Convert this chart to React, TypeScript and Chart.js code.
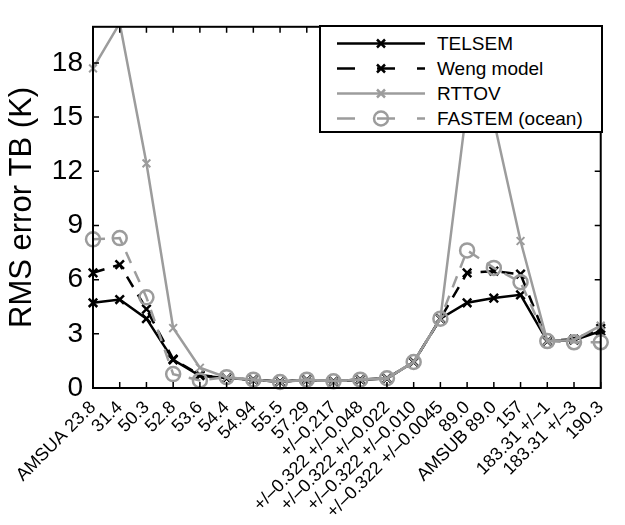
import React, { useEffect, useRef } from "react";
import { Chart, registerables } from "chart.js";

Chart.register(...registerables);

const FONT = '"Liberation Sans", Arial, Helvetica, sans-serif';
const GRAY = "#9c9c9c";

const categories = [
  "AMSUA 23.8", "31.4", "50.3", "52.8", "53.6", "54.4", "54.94", "55.5", "57.29",
  "+/–0.217", "+/–0.322 +/–0.048", "+/–0.322 +/–0.022", "+/–0.322 +/–0.010",
  "+/–0.322 +/–0.0045", "89.0", "AMSUB 89.0", "157", "183.31 +/–1", "183.31 +/–3", "190.3",
];

const telsem = [4.72, 4.9, 3.84, 1.56, 0.68, 0.55, 0.46, 0.35, 0.45, 0.37, 0.47, 0.53, 1.44, 3.84, 4.72, 4.98, 5.16, 2.6, 2.65, 3.15];
const weng = [6.38, 6.83, 4.37, 1.6, 0.72, 0.55, 0.46, 0.35, 0.45, 0.37, 0.47, 0.53, 1.44, 3.84, 6.38, 6.47, 6.3, 2.6, 2.7, 3.3];
const rttov = [17.7, 20.2, 12.44, 3.32, 1.12, 0.58, 0.46, 0.35, 0.45, 0.37, 0.47, 0.53, 1.44, 3.84, 15.7, 14.8, 8.14, 2.6, 2.65, 3.45];
const fastem = [8.23, 8.3, 5.02, 0.77, 0.42, 0.6, 0.46, 0.33, 0.46, 0.37, 0.46, 0.54, 1.44, 3.84, 7.62, 6.65, 5.86, 2.6, 2.53, 2.53];

const yTicks = [0, 3, 6, 9, 12, 15, 18];
const yMin = 0;
const yMax = 20;

const legendItems = [
  { label: "TELSEM", color: "#000", dash: "", marker: "x" },
  { label: "Weng model", color: "#000", dash: "18 22", marker: "x" },
  { label: "RTTOV", color: GRAY, dash: "", marker: "x" },
  { label: "FASTEM (ocean)", color: GRAY, dash: "18 22", marker: "o" },
];

const framePlugin = {
  id: "frame",
  afterDraw(chart: any) {
    const { ctx, chartArea: a, scales } = chart;
    const x = scales.x;
    const y = scales.y;
    ctx.save();
    ctx.strokeStyle = "#000";
    ctx.lineWidth = 1.5;
    const L = 6;
    ctx.beginPath();
    x.ticks.forEach((_t: any, i: number) => {
      const px = x.getPixelForTick(i);
      ctx.moveTo(px, a.bottom);
      ctx.lineTo(px, a.bottom - L);
      ctx.moveTo(px, a.top);
      ctx.lineTo(px, a.top + L);
    });
    y.ticks.forEach((_t: any, i: number) => {
      const py = y.getPixelForTick(i);
      ctx.moveTo(a.left, py);
      ctx.lineTo(a.left + L, py);
      ctx.moveTo(a.right, py);
      ctx.lineTo(a.right - L, py);
    });
    ctx.stroke();
    ctx.lineWidth = 2;
    ctx.strokeRect(a.left, a.top, a.right - a.left, a.bottom - a.top);
    ctx.restore();
  },
};

function LegendSample({ color, dash, marker }: { color: string; dash: string; marker: string }) {
  return (
    <svg width={88} height={25} style={{ display: "block" }}>
      <line x1={0} y1={12.5} x2={88} y2={12.5} stroke={color} strokeWidth={2.5} strokeDasharray={dash || undefined} />
      {marker === "x" ? (
        <g stroke={color} strokeWidth={2.5}>
          <line x1={40} y1={8.5} x2={48} y2={16.5} />
          <line x1={40} y1={16.5} x2={48} y2={8.5} />
        </g>
      ) : (
        <circle cx={44} cy={12.5} r={7} fill="none" stroke={color} strokeWidth={2.5} />
      )}
    </svg>
  );
}

export default function App() {
  const ref = useRef<HTMLCanvasElement | null>(null);

  useEffect(() => {
    if (!ref.current) return;
    const clip = { left: 12, right: 12, top: 0, bottom: 12 };
    const chart = new Chart(ref.current, {
      type: "line",
      data: {
        labels: categories,
        datasets: [
          {
            label: "TELSEM",
            data: telsem,
            borderColor: "#000",
            borderWidth: 2.5,
            pointStyle: "crossRot",
            pointRadius: 6,
            pointBorderWidth: 2.5,
            pointBorderColor: "#000",
            pointBackgroundColor: "#000",
            order: 3,
            clip,
          } as any,
          {
            label: "Weng model",
            data: weng,
            borderColor: "#000",
            borderWidth: 2.5,
            borderDash: [12, 9],
            pointStyle: "crossRot",
            pointRadius: 6,
            pointBorderWidth: 2.5,
            pointBorderColor: "#000",
            pointBackgroundColor: "#000",
            order: 2,
            clip,
          },
          {
            label: "RTTOV",
            data: rttov,
            borderColor: GRAY,
            borderWidth: 2.5,
            pointStyle: "crossRot",
            pointRadius: 5.5,
            pointBorderWidth: 2,
            pointBorderColor: GRAY,
            pointBackgroundColor: GRAY,
            order: 1,
            clip,
          },
          {
            label: "FASTEM (ocean)",
            data: fastem,
            borderColor: GRAY,
            borderWidth: 2.5,
            borderDash: [12, 9],
            pointStyle: "circle",
            pointRadius: 7,
            pointBorderWidth: 2.5,
            pointBorderColor: GRAY,
            pointBackgroundColor: "rgba(0,0,0,0)",
            order: 0,
            clip,
          },
        ],
      },
      options: {
        animation: false,
        responsive: false,
        layout: { padding: { top: 8, right: 12, left: 0, bottom: 0 } },
        plugins: {
          legend: { display: false },
          tooltip: { enabled: false },
        },
        scales: {
          x: {
            type: "category",
            offset: false,
            grid: { display: false, drawTicks: false },
            border: { display: false },
            ticks: {
              autoSkip: false,
              maxRotation: 45,
              minRotation: 45,
              padding: 9,
              color: "#000",
              font: { size: 18, family: FONT },
            },
            afterFit: (s: any) => {
              s.height = 137;
            },
          },
          y: {
            min: yMin,
            max: yMax,
            grid: { display: false, drawTicks: false },
            border: { display: false },
            ticks: {
              stepSize: 3,
              padding: 10,
              color: "#000",
              font: { size: 28, family: FONT },
            },
            afterBuildTicks: (s: any) => {
              s.ticks = yTicks.map((v) => ({ value: v }));
            },
            title: {
              display: true,
              text: "RMS error TB (K)",
              color: "#000",
              font: { size: 31, family: FONT },
            },
            afterFit: (s: any) => {
              s.width = 93;
            },
          },
        },
      } as any,
      plugins: [framePlugin],
    });
    return () => chart.destroy();
  }, []);

  return (
    <div style={{ position: "absolute", left: 0, top: 0, width: 625, height: 525, background: "#fff" }}>
      <canvas ref={ref} width={625} height={525} style={{ display: "block" }} />
      <div
        style={{
          position: "absolute",
          left: 319,
          top: 25,
          width: 284,
          height: 108,
          boxSizing: "border-box",
          border: "2px solid #000",
          background: "#fff",
          paddingTop: 4,
        }}
      >
        {legendItems.map((it) => (
          <div key={it.label} style={{ display: "flex", alignItems: "center", height: 25 }}>
            <div style={{ marginLeft: 16, width: 88 }}>
              <LegendSample color={it.color} dash={it.dash} marker={it.marker} />
            </div>
            <span style={{ marginLeft: 12, fontFamily: FONT, fontSize: 19, color: "#000", lineHeight: "25px" }}>
              {it.label}
            </span>
          </div>
        ))}
      </div>
    </div>
  );
}
